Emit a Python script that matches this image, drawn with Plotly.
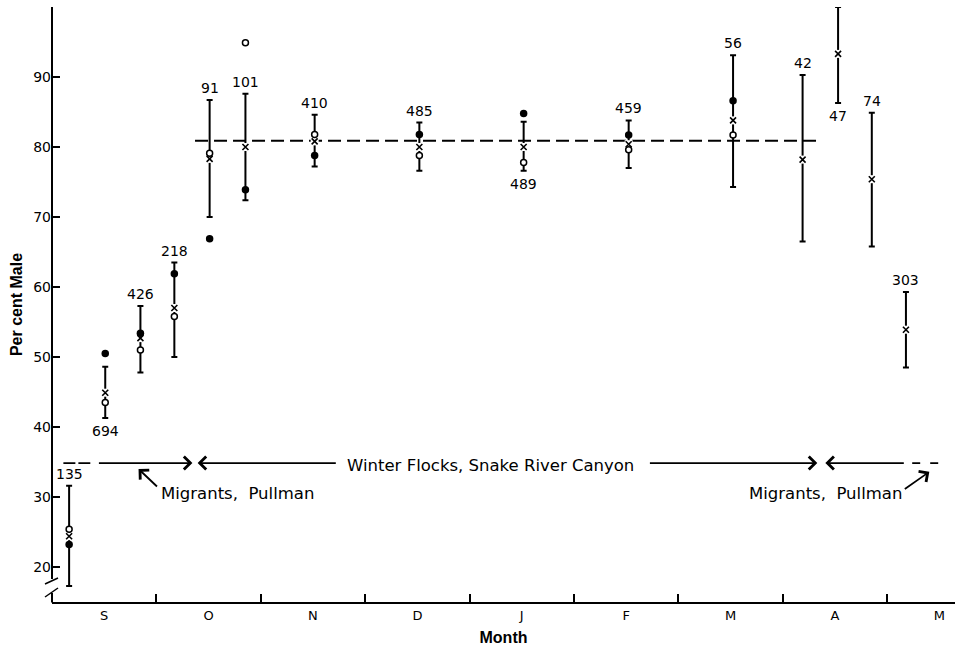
import plotly.graph_objects as go

# ---------------- data ----------------
months = ["S", "O", "N", "D", "J", "F", "M", "A", "M"]
month_centers = [0.5, 1.5, 2.5, 3.5, 4.5, 5.5, 6.5, 7.5, 8.5]
month_bounds = [1, 2, 3, 4, 5, 6, 7, 8]
y_ticks = [20, 30, 40, 50, 60, 70, 80, 90]

sample_x = [0.164, 0.51, 0.847, 1.172, 1.51, 1.853, 2.516, 3.519, 4.518,
            5.524, 6.524, 7.19, 7.53, 7.853, 8.18]
sample_n = [135, 694, 426, 218, 91, 101, 410, 485, 489, 459, 56, 42, 47, 74, 303]
mean_pct = [24.4, 44.9, 52.7, 57.0, 78.3, 80.0, 80.8, 80.0, 80.0, 80.4, 83.8,
            78.2, 93.3, 75.4, 53.9]
upper_pct = [31.6, 48.6, 57.3, 63.5, 86.7, 87.6, 84.6, 83.5, 83.6, 83.8, 93.1,
             90.3, 100.0, 84.9, 59.3]
lower_pct = [17.3, 41.3, 47.8, 50.0, 70.0, 72.4, 77.2, 76.6, 76.6, 77.0, 74.3,
             66.5, 86.3, 65.8, 48.5]
open_pct = [25.4, 43.5, 51.0, 55.8, 79.1, 94.9, 81.8, 78.8, 77.8, 79.6, 81.7,
            None, None, None, None]
filled_pct = [23.2, 50.5, 53.4, 61.9, 66.9, 73.9, 78.8, 81.8, 84.8, 81.7, 86.6,
              None, None, None, None]

winter_mean = 80.9
winter_span = [1.37, 7.36]

# ---------------- figure ----------------
BLACK = "black"
TICKFONT = dict(family="DejaVu Sans", size=14, color=BLACK)
ANNFONT = dict(family="DejaVu Sans", size=16.5, color=BLACK)

fig = go.Figure()

# winter mean dashed line
fig.add_trace(go.Scatter(
    x=winter_span, y=[winter_mean, winter_mean], mode="lines",
    line=dict(color=BLACK, width=2, dash="13px,6px"),
    hoverinfo="skip", showlegend=False))

# range bars
fig.add_trace(go.Scatter(
    x=sample_x, y=mean_pct, mode="markers",
    marker=dict(size=1, color="rgba(0,0,0,0)"),
    error_y=dict(type="data", symmetric=False,
                 array=[u - m for u, m in zip(upper_pct, mean_pct)],
                 arrayminus=[m - l for m, l in zip(mean_pct, lower_pct)],
                 color=BLACK, thickness=2, width=3),
    cliponaxis=False, hoverinfo="skip", showlegend=False))

# white gaps behind the means
fig.add_trace(go.Scatter(
    x=sample_x, y=mean_pct, mode="markers",
    marker=dict(symbol="square", size=8, color="white"),
    cliponaxis=False, hoverinfo="skip", showlegend=False))

# means
fig.add_trace(go.Scatter(
    x=sample_x, y=mean_pct, mode="markers",
    marker=dict(symbol="x-thin-open", size=6, color=BLACK,
                line=dict(color=BLACK, width=1.6)),
    cliponaxis=False, showlegend=False))

# open circles
fig.add_trace(go.Scatter(
    x=sample_x, y=open_pct, mode="markers",
    marker=dict(symbol="circle", size=6, color="white",
                line=dict(color=BLACK, width=1.5)),
    cliponaxis=False, showlegend=False))

# filled circles
fig.add_trace(go.Scatter(
    x=sample_x, y=filled_pct, mode="markers",
    marker=dict(symbol="circle", size=7.5, color=BLACK,
                line=dict(color=BLACK, width=0)),
    cliponaxis=False, showlegend=False))

annotations = []
# sample-size labels
below = {1, 8, 12}
for i, (xv, n, up, lo) in enumerate(zip(sample_x, sample_n, upper_pct, lower_pct)):
    if i in below:
        annotations.append(dict(x=xv, y=lo, text=str(n), showarrow=False,
                                yshift=-13, font=TICKFONT))
    else:
        annotations.append(dict(x=xv, y=up, text=str(n), showarrow=False,
                                yshift=12, font=TICKFONT))

Y_BAND = 34.85


def arrow(x_head, y_head, x_tail, y_tail, head=4):
    return dict(x=x_head, y=y_head, ax=x_tail, ay=y_tail, xref="x", yref="y",
                axref="x", ayref="y", text="", showarrow=True,
                arrowhead=head, arrowsize=1.4, arrowwidth=1.8,
                arrowcolor=BLACK, standoff=0, startstandoff=0)


annotations += [
    arrow(1.345, Y_BAND, 0.435, Y_BAND),
    arrow(1.395, Y_BAND, 2.733, Y_BAND),
    arrow(7.331, Y_BAND, 5.713, Y_BAND),
    arrow(7.408, Y_BAND, 8.174, Y_BAND),
    arrow(0.829, 34.0, 1.02, 31.3),
    arrow(8.404, 33.6, 8.155, 31.0),
    dict(x=4.2, y=34.5, text="Winter Flocks, Snake River Canyon",
         showarrow=False, font=ANNFONT),
    dict(x=1.776, y=30.57, text="Migrants,\u00a0 Pullman", showarrow=False,
         font=ANNFONT),
    dict(x=7.408, y=30.57, text="Migrants,\u00a0 Pullman", showarrow=False,
         font=ANNFONT),
]

shapes = [
    # dashed ends of the band
    dict(type="line", xref="x", yref="y", x0=0.109, x1=0.367, y0=Y_BAND, y1=Y_BAND,
         line=dict(color=BLACK, width=1.8, dash="12px,3px")),
    dict(type="line", xref="x", yref="y", x0=8.24, x1=8.51, y0=Y_BAND, y1=Y_BAND,
         line=dict(color=BLACK, width=1.8, dash="8px,10px")),
]

# y axis line with break (paper coordinates)
PW, PH, L, B = 903.0, 595.0, 52.0, 46.0


def px2paper(px, py):
    return (px - L) / PW, (648 - B - py) / PH


def seg(p0, p1, w=2):
    x0, y0 = px2paper(*p0)
    x1, y1 = px2paper(*p1)
    return dict(type="line", xref="paper", yref="paper", x0=x0, y0=y0, x1=x1, y1=y1,
                line=dict(color=BLACK, width=w))


shapes += [
    seg((52, 7), (52, 579)),
    seg((52, 593), (52, 602.5)),
    seg((45, 584), (58, 578), 1.5),
    seg((45, 597), (58, 588), 1.5),
]

fig.update_layout(
    width=959, height=648,
    margin=dict(l=52, r=4, t=7, b=46),
    paper_bgcolor="white", plot_bgcolor="white",
    showlegend=False,
    annotations=annotations,
    shapes=shapes,
    xaxis=dict(
        range=[0, 8.65], showgrid=False, zeroline=False,
        showline=True, linecolor=BLACK, linewidth=2,
        tickmode="array", tickvals=month_centers, ticktext=months,
        ticks="", tickfont=dict(family="DejaVu Sans", size=13, color=BLACK),
        minor=dict(tickmode="array", tickvals=month_bounds, ticks="inside",
                   ticklen=8, tickwidth=1.5, tickcolor=BLACK, showgrid=False),
        title=dict(text="Month", standoff=10,
                   font=dict(family="Liberation Sans", size=16, color=BLACK,
                             weight="bold")),
    ),
    yaxis=dict(
        range=[15, 100], showgrid=False, zeroline=False, showline=False,
        tickmode="array", tickvals=y_ticks, ticks="inside", ticklen=8,
        tickwidth=1.5, tickcolor=BLACK, tickfont=TICKFONT,
        title=dict(text="Per cent Male", standoff=6,
                   font=dict(family="Liberation Sans", size=16, color=BLACK,
                             weight="bold")),
    ),
)

fig.write_html("out.html",
               config={"displayModeBar": False},
               post_script="document.body.style.margin='0';")
